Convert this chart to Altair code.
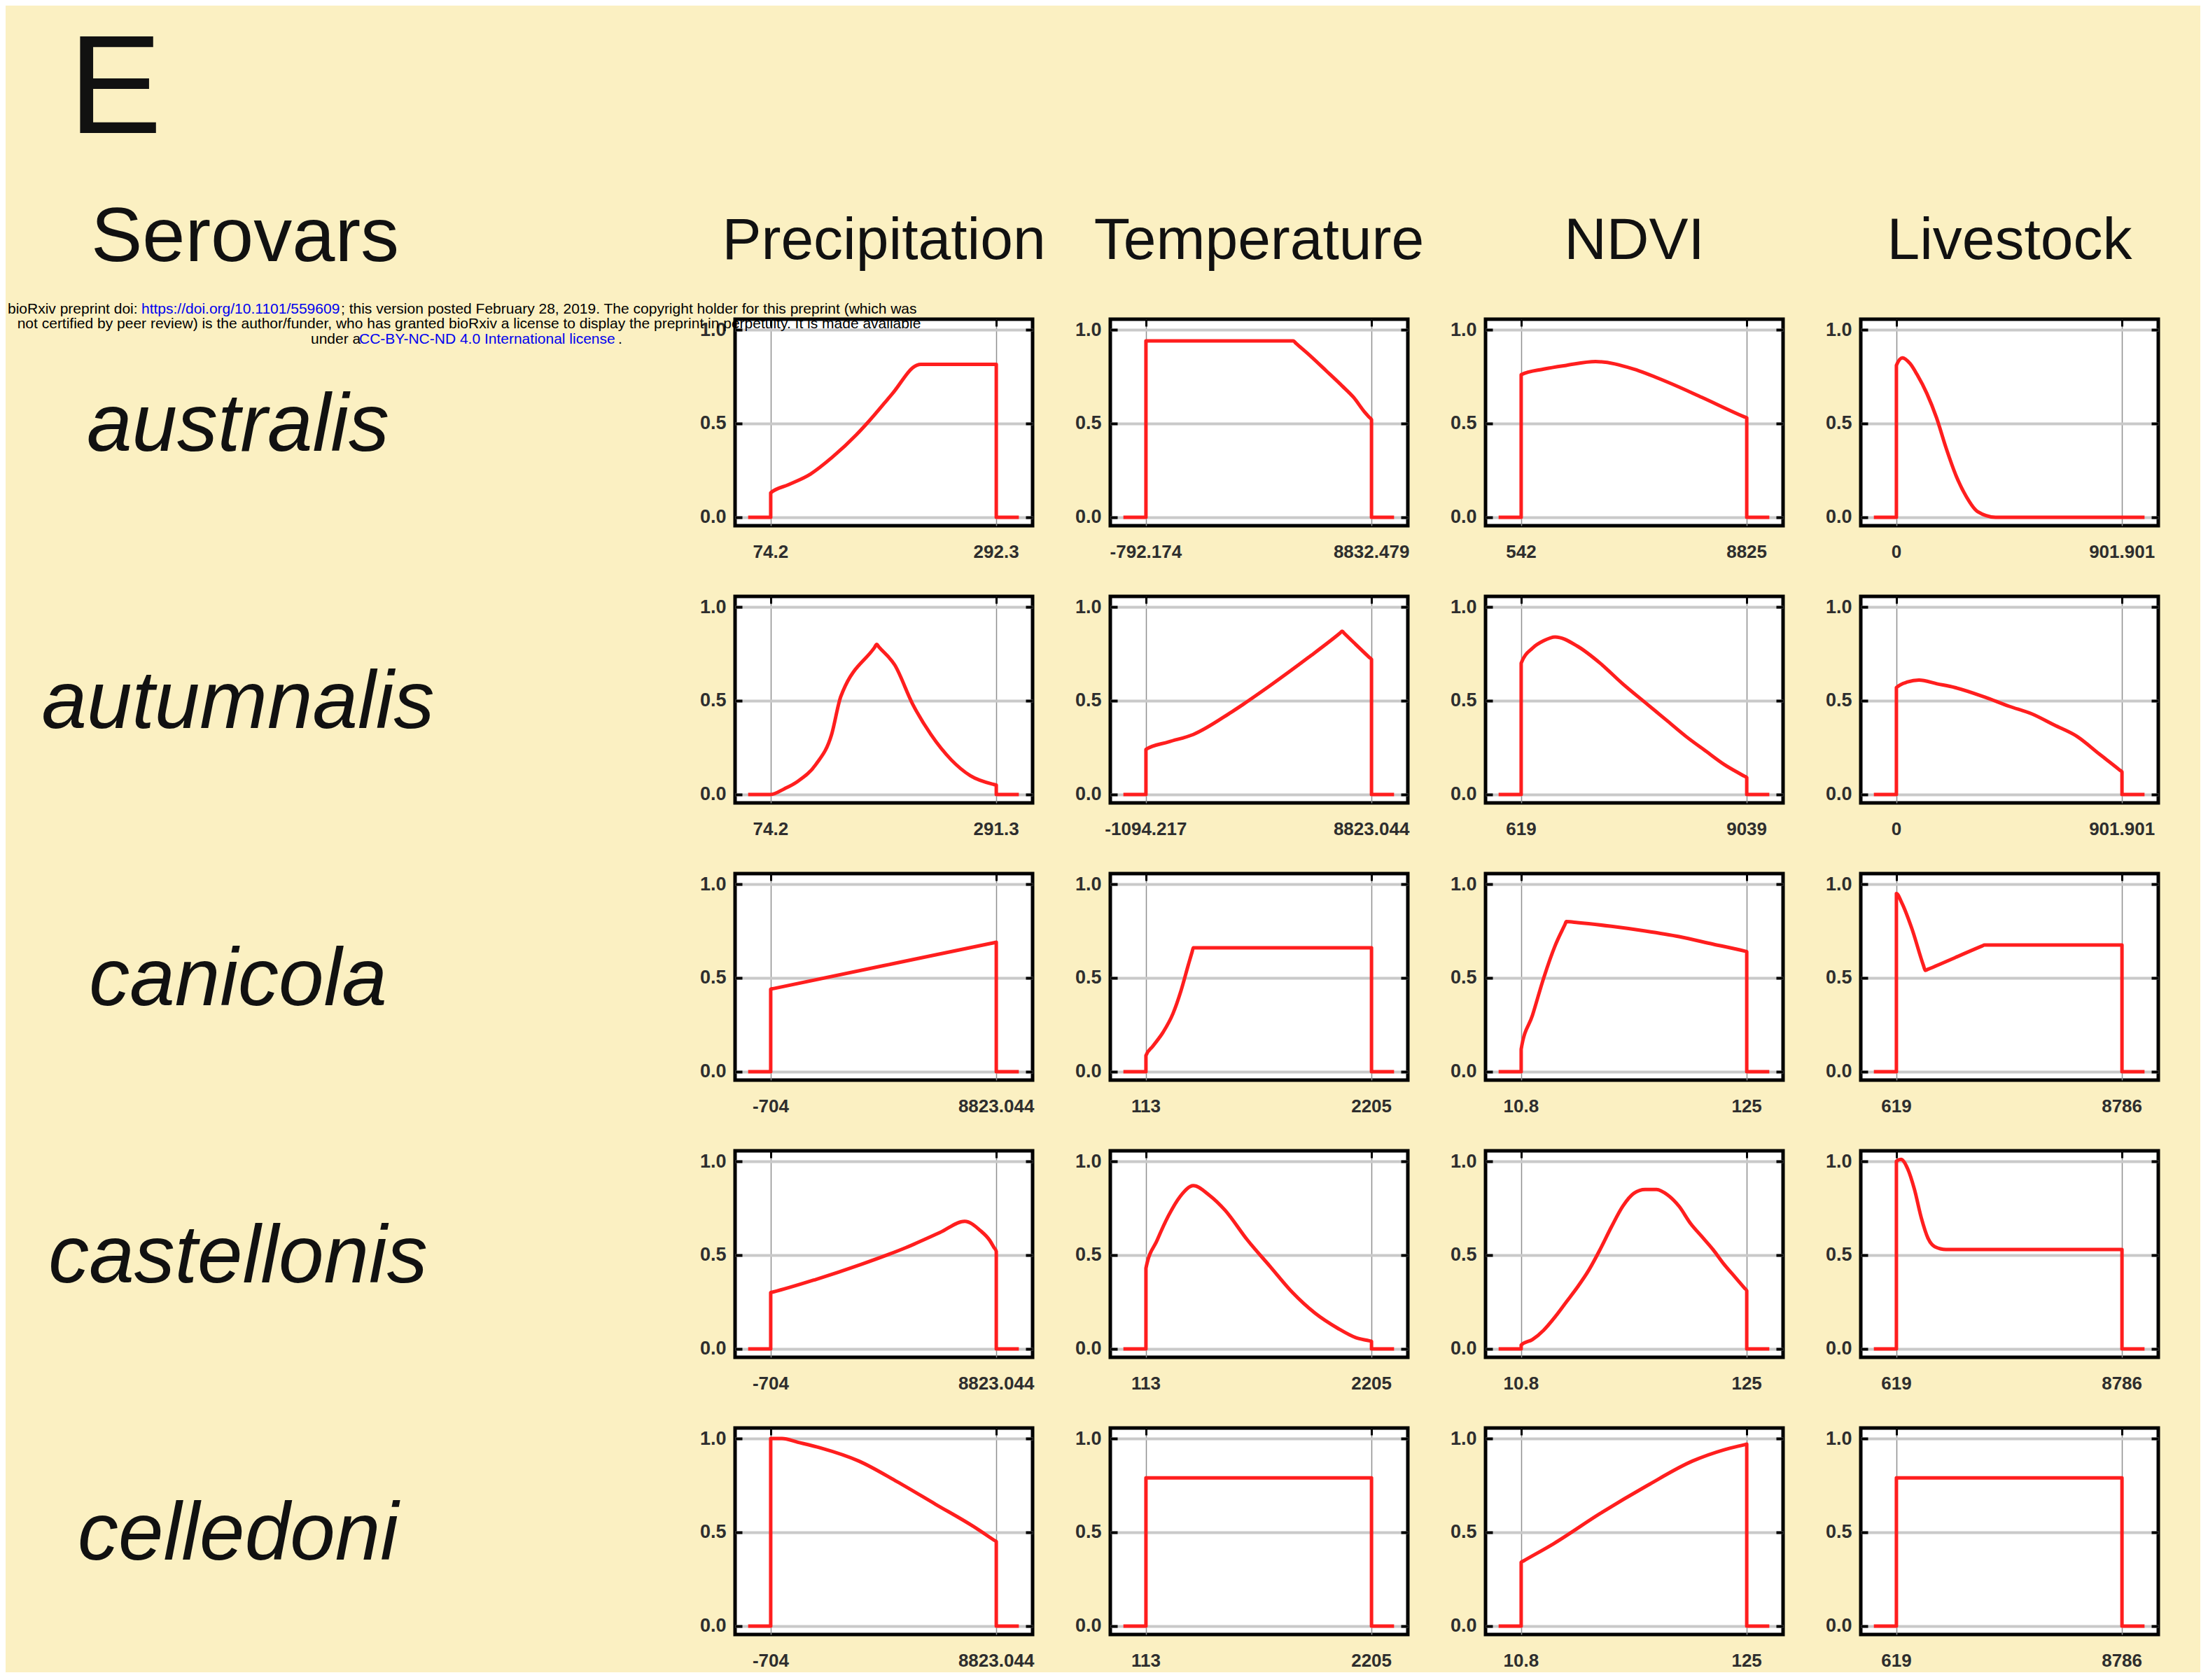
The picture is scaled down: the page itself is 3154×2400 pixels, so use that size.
import altair as alt
import pandas as pd

serovars = ["australis", "autumnalis", "canicola", "castellonis", "celledoni"]
variables = ["Precipitation", "Temperature", "NDVI", "Livestock"]

# ---- response curves (x normalised: 0 = lower label, 1 = upper label) ----
australis_precipitation = [(-0.1, 0), (0, 0), (0, 0.13), (0.08, 0.174), (0.176, 0.23), (0.273, 0.32), (0.38, 0.44),
                           (0.434, 0.51), (0.54, 0.66), (0.647, 0.81), (0.665, 0.815), (1, 0.815), (1, 0), (1.1, 0)]
australis_temperature = [(-0.1, 0), (0, 0), (0, 0.94), (0.654, 0.94), (0.664, 0.929), (0.72, 0.87), (0.8, 0.78),
                         (0.87, 0.7), (0.92, 0.64), (0.97, 0.56), (0.99, 0.533), (1, 0.52), (1, 0), (1.1, 0)]
australis_ndvi = [(-0.1, 0), (0, 0), (0, 0.76), (0.1, 0.79), (0.2, 0.81), (0.33, 0.83), (0.5, 0.79), (0.65, 0.72),
                  (0.8, 0.64), (0.99, 0.535), (1, 0.53), (1, 0), (1.1, 0)]
australis_livestock = [(-0.1, 0), (0, 0), (0, 0.81), (0.027, 0.85), (0.06, 0.82), (0.092, 0.76), (0.135, 0.66),
                       (0.178, 0.53), (0.22, 0.37), (0.265, 0.22), (0.31, 0.11), (0.36, 0.03), (0.44, 0.0), (1.1, 0)]

autumnalis_precipitation = [(-0.1, 0), (0, 0), (0.06, 0.03), (0.12, 0.07), (0.2, 0.16), (0.27, 0.32), (0.31, 0.52),
                            (0.32, 0.55), (0.46, 0.783), (0.47, 0.80), (0.48, 0.786), (0.55, 0.69), (0.63, 0.48),
                            (0.71, 0.32), (0.8, 0.185), (0.885, 0.1), (0.99, 0.053), (1, 0.05), (1, 0), (1.1, 0)]
autumnalis_temperature = [(-0.1, 0), (0, 0), (0, 0.24), (0.1, 0.28), (0.21, 0.32), (0.38, 0.44), (0.55, 0.58),
                          (0.72, 0.73), (0.86, 0.86), (0.87, 0.87), (0.88, 0.858), (0.93, 0.8), (0.99, 0.731),
                          (1, 0.72), (1, 0), (1.1, 0)]
autumnalis_ndvi = [(-0.1, 0), (0, 0), (0, 0.70), (0.05, 0.78), (0.1, 0.82), (0.15, 0.84), (0.25, 0.79), (0.35, 0.70),
                   (0.45, 0.59), (0.56, 0.48), (0.65, 0.39), (0.73, 0.31), (0.82, 0.23), (0.9, 0.16), (0.99, 0.097),
                   (1, 0.09), (1, 0), (1.1, 0)]
autumnalis_livestock = [(-0.1, 0), (0, 0), (0, 0.57), (0.05, 0.6), (0.1, 0.61), (0.18, 0.59), (0.26, 0.57),
                        (0.39, 0.52), (0.5, 0.47), (0.6, 0.43), (0.7, 0.37), (0.8, 0.31), (0.9, 0.215),
                        (0.99, 0.13), (1, 0.12), (1, 0), (1.1, 0)]

canicola_precipitation = [(-0.1, 0), (0, 0), (0, 0.44), (0.01, 0.4425), (0.5, 0.565), (0.99, 0.6875), (1, 0.69),
                          (1, 0), (1.1, 0)]
canicola_temperature = [(-0.1, 0), (0, 0), (0, 0.086), (0.03, 0.135), (0.076, 0.21), (0.12, 0.31), (0.155, 0.43),
                        (0.188, 0.57), (0.205, 0.64), (0.21, 0.66), (1, 0.66), (1, 0), (1.1, 0)]
canicola_ndvi = [(-0.1, 0), (0, 0), (0, 0.12), (0.05, 0.3), (0.1, 0.5), (0.15, 0.67), (0.195, 0.787), (0.2, 0.8),
                 (0.25, 0.795), (0.4, 0.775), (0.55, 0.75), (0.7, 0.72), (0.85, 0.68), (0.99, 0.643), (1, 0.64),
                 (1, 0), (1.1, 0)]
canicola_livestock = [(-0.1, 0), (0, 0), (0, 0.95), (0.024, 0.90), (0.068, 0.765), (0.12, 0.566), (0.128, 0.54),
                      (0.138, 0.545), (0.38, 0.670), (0.39, 0.675), (1, 0.675), (1, 0), (1.1, 0)]

castellonis_precipitation = [(-0.1, 0), (0, 0), (0, 0.30), (0.01, 0.303), (0.2, 0.37), (0.4, 0.45), (0.6, 0.54),
                             (0.75, 0.62), (0.86, 0.68), (0.93, 0.63), (0.97, 0.58), (0.99, 0.54), (1, 0.52),
                             (1, 0), (1.1, 0)]
castellonis_temperature = [(-0.1, 0), (0, 0), (0, 0.43), (0.05, 0.58), (0.1, 0.71), (0.15, 0.81), (0.21, 0.87),
                           (0.28, 0.82), (0.35, 0.74), (0.45, 0.58), (0.55, 0.44), (0.65, 0.3), (0.75, 0.19),
                           (0.85, 0.11), (0.93, 0.06), (0.99, 0.043), (1, 0.04), (1, 0), (1.1, 0)]
castellonis_ndvi = [(-0.1, 0), (0, 0), (0, 0.02), (0.05, 0.05), (0.1, 0.1), (0.15, 0.17), (0.2, 0.25), (0.25, 0.33),
                    (0.3, 0.42), (0.35, 0.53), (0.4, 0.65), (0.45, 0.76), (0.5, 0.83), (0.55, 0.85), (0.6, 0.85),
                    (0.65, 0.82), (0.7, 0.76), (0.75, 0.67), (0.8, 0.6), (0.85, 0.53), (0.9, 0.45), (0.95, 0.38),
                    (0.99, 0.324), (1, 0.31), (1, 0), (1.1, 0)]
castellonis_livestock = [(-0.1, 0), (0, 0), (0, 1.0), (0.02, 1.01), (0.05, 0.96), (0.08, 0.85), (0.11, 0.7),
                         (0.14, 0.59), (0.17, 0.545), (0.22, 0.53), (1, 0.53), (1, 0), (1.1, 0)]

celledoni_precipitation = [(-0.1, 0), (0, 0), (0, 1.0), (0.05, 1.0), (0.12, 0.98), (0.22, 0.95), (0.39, 0.88),
                           (0.56, 0.77), (0.73, 0.65), (0.9, 0.53), (0.99, 0.458), (1, 0.45), (1, 0), (1.1, 0)]
celledoni_temperature = [(-0.1, 0), (0, 0), (0, 0.79), (1, 0.79), (1, 0), (1.1, 0)]
celledoni_ndvi = [(-0.1, 0), (0, 0), (0, 0.34), (0.01, 0.347), (0.145, 0.44), (0.35, 0.6), (0.56, 0.75),
                  (0.76, 0.88), (0.9, 0.94), (0.99, 0.967), (1, 0.97), (1, 0), (1.1, 0)]
celledoni_livestock = [(-0.1, 0), (0, 0), (0, 0.79), (1, 0.79), (1, 0), (1.1, 0)]

# ---- x-axis end labels (lower, upper) per panel ----
australis_xlabels = [("74.2", "292.3"), ("-792.174", "8832.479"), ("542", "8825"), ("0", "901.901")]
autumnalis_xlabels = [("74.2", "291.3"), ("-1094.217", "8823.044"), ("619", "9039"), ("0", "901.901")]
canicola_xlabels = [("-704", "8823.044"), ("113", "2205"), ("10.8", "125"), ("619", "8786")]
castellonis_xlabels = [("-704", "8823.044"), ("113", "2205"), ("10.8", "125"), ("619", "8786")]
celledoni_xlabels = [("-704", "8823.044"), ("113", "2205"), ("10.8", "125"), ("619", "8786")]

curves = {
    "australis": [australis_precipitation, australis_temperature, australis_ndvi, australis_livestock],
    "autumnalis": [autumnalis_precipitation, autumnalis_temperature, autumnalis_ndvi, autumnalis_livestock],
    "canicola": [canicola_precipitation, canicola_temperature, canicola_ndvi, canicola_livestock],
    "castellonis": [castellonis_precipitation, castellonis_temperature, castellonis_ndvi, castellonis_livestock],
    "celledoni": [celledoni_precipitation, celledoni_temperature, celledoni_ndvi, celledoni_livestock],
}
xlabels = {
    "australis": australis_xlabels, "autumnalis": autumnalis_xlabels, "canicola": canicola_xlabels,
    "castellonis": castellonis_xlabels, "celledoni": celledoni_xlabels,
}

recs = []
for s in serovars:
    for v, pts, labs in zip(variables, curves[s], xlabels[s]):
        for i, (x, y) in enumerate(pts):
            recs.append(dict(kind="curve", serovar=s, variable=v, i=i, x=float(x), y=float(y), side="", label=""))
        recs.append(dict(kind="xlab", serovar=s, variable=v, i=0, x=0.0, y=0.0, side="min", label=labs[0]))
        recs.append(dict(kind="xlab", serovar=s, variable=v, i=1, x=1.0, y=0.0, side="max", label=labs[1]))
df = pd.DataFrame(recs)

# ---- styling ----
W, H = 425, 295
BG = "#FBF0C2"
RED = "#FF1E1E"
SANS = "Liberation Sans, Arial, Helvetica, sans-serif"

xs = alt.Scale(domain=[-0.158, 1.161], nice=False, zero=False)
ys = alt.Scale(domain=[-0.045, 1.056], nice=False, zero=False)

is_curve = alt.datum.kind == "curve"
first_side = (alt.datum.kind == "xlab") & (alt.datum.side == "min")

curve = alt.Chart().mark_line(color=RED, strokeWidth=5, strokeJoin="round", interpolate="monotone").encode(
    x=alt.X("x:Q", scale=xs, axis=alt.Axis(orient="bottom", values=[0, 1], grid=True, gridColor="#8f8f8f",
                                           gridWidth=1.5, labels=False, ticks=False, domain=False, title=None)),
    y=alt.Y("y:Q", scale=ys, axis=alt.Axis(orient="left", values=[0, 0.5, 1], format=".1f", grid=True,
                                           gridColor="#c9c9c9", gridWidth=4, ticks=True, tickSize=10,
                                           tickWidth=4, tickColor="black", offset=-10, domain=False,
                                           labelPadding=13, labelFont=SANS, labelFontWeight="bold",
                                           labelFontSize=27, labelColor="#2e2e2e", title=None)),
    order="i:Q",
).transform_filter(is_curve)

ticks2 = alt.Chart().mark_line(opacity=0).encode(
    x=alt.X("x:Q", scale=xs, axis=alt.Axis(orient="top", values=[0, 1], grid=False, labels=False, ticks=True,
                                           tickSize=10, tickWidth=3, tickColor="black", offset=-10,
                                           domain=False, title=None)),
    y=alt.Y("y:Q", scale=ys, axis=alt.Axis(orient="right", values=[0, 0.5, 1], grid=False, labels=False,
                                           ticks=True, tickSize=10, tickWidth=4, tickColor="black",
                                           offset=-10, domain=False, title=None)),
    order="i:Q",
).transform_filter(is_curve)

xlab = alt.Chart().mark_text(font=SANS, fontWeight="bold", fontSize=26, color="#2e2e2e",
                             baseline="middle", align="center").encode(
    x=alt.X("x:Q", scale=xs, axis=None),
    y=alt.value(H + 38),
    text="label:N",
).transform_filter(alt.datum.kind == "xlab")

rowlab = alt.Chart().mark_text(font=SANS, fontStyle="italic", fontSize=116, color="#111111",
                               align="center", baseline="alphabetic").encode(
    x=alt.value(-710), y=alt.value(188), text="serovar:N",
).transform_filter(first_side & (alt.datum.variable == "Precipitation"))

colhead = alt.Chart().mark_text(font=SANS, fontSize=84, color="#111111", align="center",
                                baseline="alphabetic").encode(
    x=alt.value(W / 2), y=alt.value(-86), text="variable:N",
).transform_filter(first_side & (alt.datum.serovar == "australis"))

single = first_side & (alt.datum.serovar == "australis") & (alt.datum.variable == "Precipitation")


def note(text, x, y, size, color="#111111", align="left", font=SANS):
    return alt.Chart().mark_text(text=text, font=font, fontSize=size, color=color, align=align,
                                 baseline="alphabetic").encode(
        x=alt.value(x), y=alt.value(y)).transform_filter(single)


notes = [
    note("E", -952, -266, 200),
    note("Serovars", -700, -83, 110, align="center"),
    note("bioRxiv preprint doi: ", -1039, -8, 21, color="#000000"),
    note("https://doi.org/10.1101/559609", -848, -8, 21, color="#0000EE"),
    note("; this version posted February 28, 2019. The copyright holder for this preprint (which was",
         -563, -8, 21, color="#000000"),
    note("not certified by peer review) is the author/funder, who has granted bioRxiv a license to display "
         "the preprint in perpetuity. It is made available", -380, 13, 21, color="#000000", align="center"),
    note("under a", -606, 35, 21, color="#000000"),
    note("CC-BY-NC-ND 4.0 International license", -537, 35, 21, color="#0000EE"),
    note(".", -167, 35, 21, color="#000000"),
]

bounds_rect = alt.Chart().mark_rect(opacity=0).encode(
    x=alt.value(-1038), x2=alt.value(2090), y=alt.value(-445), y2=alt.value(1925),
).transform_filter(single)

layered = alt.layer(curve, ticks2, xlab, rowlab, colhead, *notes, bounds_rect).resolve_axis(
    x="independent", y="independent")

chart = layered.properties(width=W, height=H).facet(
    row=alt.Row("serovar:N", sort=serovars, title=None, header=alt.Header(labels=False)),
    column=alt.Column("variable:N", sort=variables, title=None, header=alt.Header(labels=False)),
    data=df,
    spacing={"row": 101, "column": 111},
    bounds="flush",
).resolve_axis(x="independent", y="independent").properties(
    padding=0, background=BG
).configure_view(stroke="black", strokeWidth=5, fill="white")

chart.save("out.html", embed_options={"renderer": "svg", "actions": False})
